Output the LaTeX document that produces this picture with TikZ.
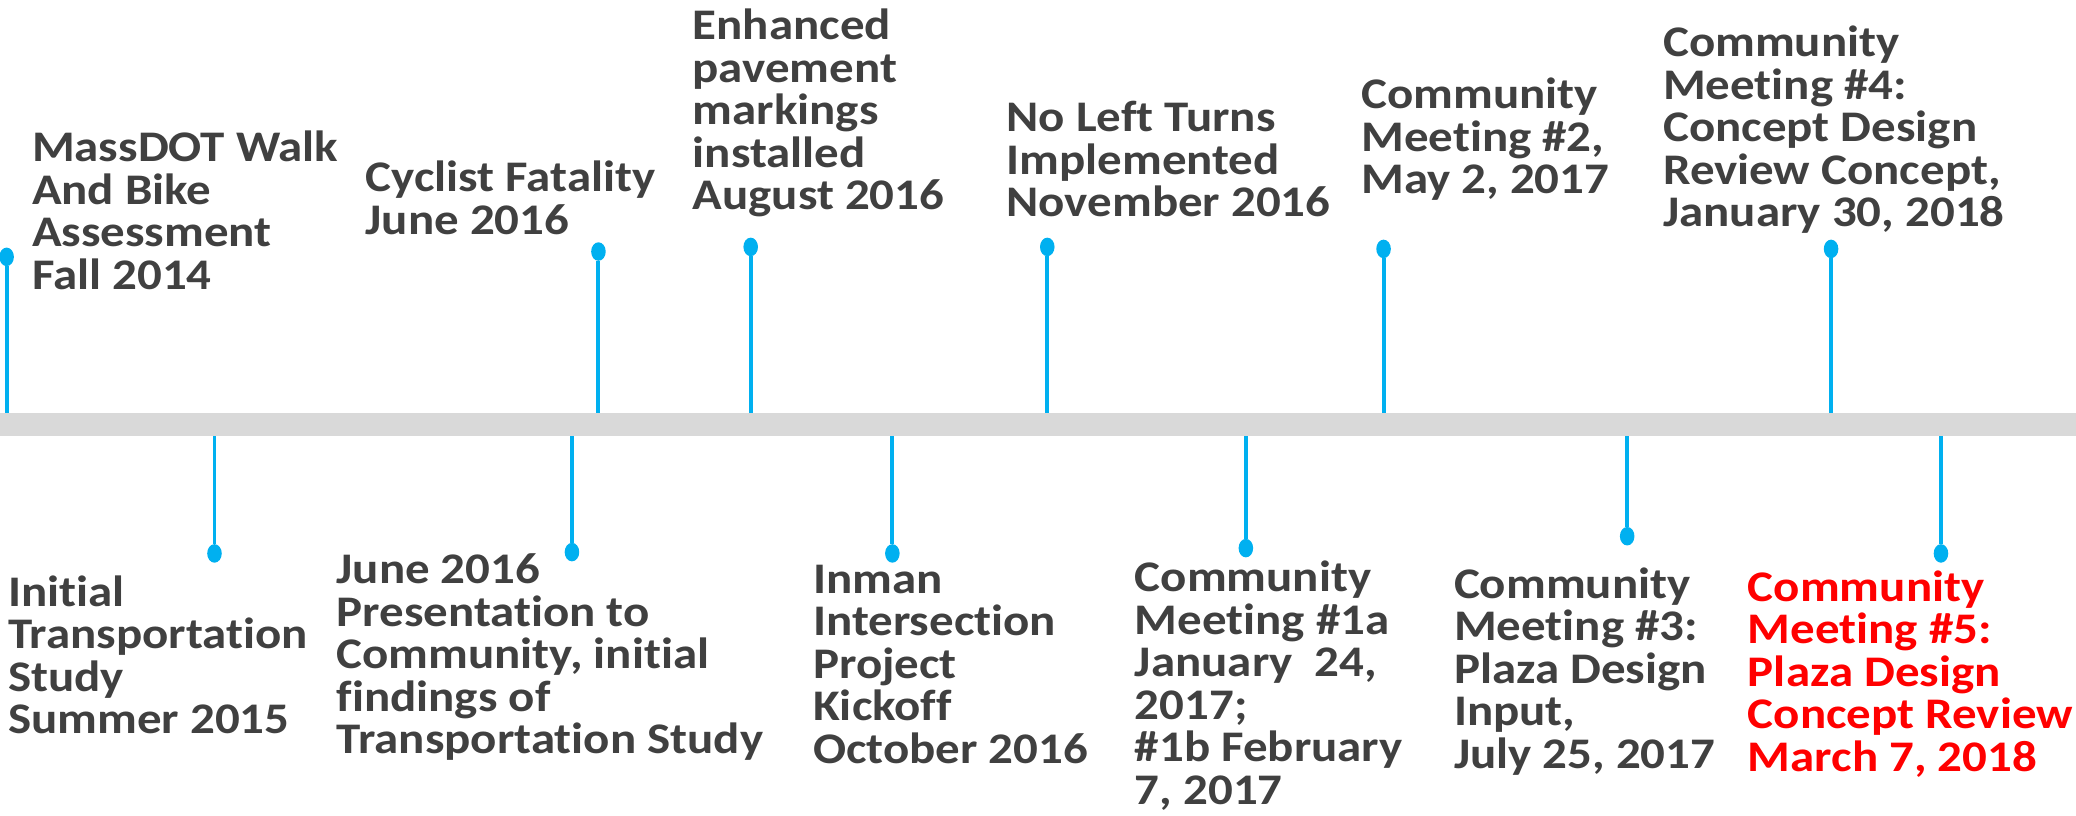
\documentclass[tikz,border=0pt]{standalone}
\usepackage{fontspec}
\setmainfont{Carlito}[FakeStretch=1.12,Ligatures=NoCommon]
\usepackage{tikz}
\usetikzlibrary{shapes.geometric}
\definecolor{stemblue}{RGB}{0,176,240}
\definecolor{bargray}{RGB}{217,217,217}
\definecolor{textgray}{RGB}{64,64,64}
\definecolor{alertred}{RGB}{255,0,0}

\begin{document}
\begin{tikzpicture}[
    x=1pt,y=-1pt,
    eventtext/.style={anchor=base west,inner sep=0pt,align=left,text=textgray,font=\fontsize{33}{32.1}\selectfont\bfseries},
    eventdot/.style={ellipse,fill=stemblue,minimum width=11pt,minimum height=14pt,inner sep=0pt},
    stemline/.style={draw=stemblue,line width=3pt}
]
    \useasboundingbox (0,0) rectangle (1568,615.6);

    % dots above the bar
    \node[eventdot] (dMass) at (5,194) {};
    \node[eventdot] (dFatal) at (452,190) {};
    \node[eventdot] (dPave) at (567,186.5) {};
    \node[eventdot] (dTurns) at (791,186.5) {};
    \node[eventdot] (dMeet2) at (1045,188) {};
    \node[eventdot] (dMeet4) at (1383,188) {};
    % dots below the bar
    \node[eventdot] (dStudy) at (162,418) {};
    \node[eventdot] (dPres) at (432,417) {};
    \node[eventdot] (dInman) at (674,418) {};
    \node[eventdot] (dMeet1) at (941,414) {};
    \node[eventdot] (dMeet3) at (1229,405) {};
    \node[eventdot] (dMeet5) at (1466,418) {};

    % feet of the stems on the bar
    \coordinate (bMass) at (5,320);
    \coordinate (bFatal) at (452,320);
    \coordinate (bPave) at (567,320);
    \coordinate (bTurns) at (791,320);
    \coordinate (bMeet2) at (1045,320);
    \coordinate (bMeet4) at (1383,320);
    \coordinate (bStudy) at (162,320);
    \coordinate (bPres) at (432,320);
    \coordinate (bInman) at (674,320);
    \coordinate (bMeet1) at (941,320);
    \coordinate (bMeet3) at (1229,320);
    \coordinate (bMeet5) at (1466,320);

    \draw[stemline] (dMass) -- (bMass);
    \draw[stemline] (dFatal) -- (bFatal);
    \draw[stemline] (dPave) -- (bPave);
    \draw[stemline] (dTurns) -- (bTurns);
    \draw[stemline] (dMeet2) -- (bMeet2);
    \draw[stemline] (dMeet4) -- (bMeet4);
    \draw[stemline] (dStudy) -- (bStudy);
    \draw[stemline] (dPres) -- (bPres);
    \draw[stemline] (dInman) -- (bInman);
    \draw[stemline] (dMeet1) -- (bMeet1);
    \draw[stemline] (dMeet3) -- (bMeet3);
    \draw[stemline] (dMeet5) -- (bMeet5);

    % time bar
    \fill[bargray] (0,312) rectangle (1568,329);

    % texts above (placed at the baseline of their last line)
    \node[eventtext] (tMass) at (24,218.3) {MassDOT Walk\\And Bike\\Assessment\\Fall 2014};
    \node[eventtext] (tFatal) at (276,177.1) {Cyclist Fatality\\June 2016};
    \node[eventtext] (tPave) at (523,158.4) {Enhanced\\pavement\\markings\\installed\\August 2016};
    \node[eventtext] (tTurns) at (760,163.7) {No Left Turns\\Implemented\\November 2016};
    \node[eventtext] (tMeet2) at (1028,146.2) {Community\\Meeting \#2,\\May 2, 2017};
    \node[eventtext] (tMeet4) at (1256,171.4) {Community\\Meeting \#4:\\Concept Design\\Review Concept,\\January 30, 2018};
    % texts below
    \node[eventtext] (tStudy) at (6,554.3) {Initial\\Transportation\\Study\\Summer 2015};
    \node[eventtext] (tPres) at (254,569.4) {June 2016\\Presentation to\\Community, initial\\findings of\\Transportation Study};
    \node[eventtext] (tInman) at (614,576.4) {Inman\\Intersection\\Project\\Kickoff\\October 2016};
    \node[eventtext] (tMeet1) at (857,607.5) {Community\\Meeting \#1a\\January~~24,\\2017;\\\#1b February\\7, 2017};
    \node[eventtext] (tMeet3) at (1098,580.4) {Community\\Meeting \#3:\\Plaza Design\\Input,\\July 25, 2017};
    \node[eventtext,text=alertred] (tMeet5) at (1320,582.4) {Community\\Meeting \#5:\\Plaza Design\\Concept Review\\March 7, 2018};
\end{tikzpicture}
\end{document}
